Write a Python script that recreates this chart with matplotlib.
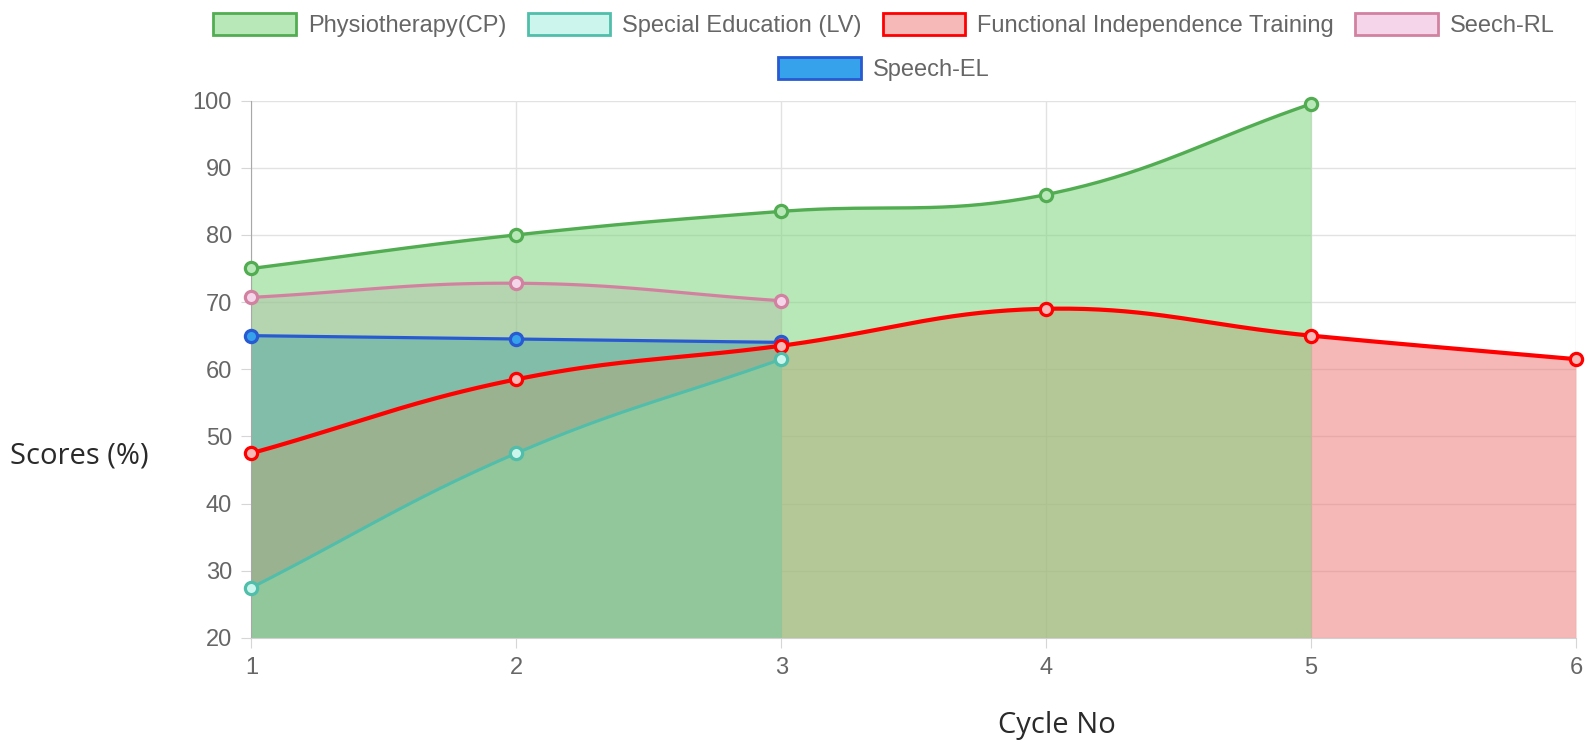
import numpy as np
import matplotlib
matplotlib.use("Agg")
import matplotlib.pyplot as plt
from matplotlib.patches import Patch

# Data
cycles = [1, 2, 3, 4, 5, 6]
physio = [75, 80, 83.5, 86, 99.5]
special_ed = [27.5, 47.5, 61.5]
fit = [47.5, 58.5, 63.5, 69, 65, 61.5]
speech_rl = [70.7, 72.8, 70.2]
speech_el = [65, 64.5, 64]

labels = ["Physiotherapy(CP)", "Special Education (LV)",
          "Functional Independence Training", "Seech-RL", "Speech-EL"]


def rgba(r, g, b, a=1.0):
    return (r / 255, g / 255, b / 255, a)


# (line colour, fill colour, marker face, line width)
styles = [
    (rgba(82, 172, 82), rgba(126, 213, 126, 0.55), rgba(184, 232, 184), 2.4),
    (rgba(80, 190, 170), rgba(149, 234, 220, 0.48), rgba(204, 245, 238), 2.2),
    (rgba(255, 0, 0), rgba(239, 113, 113, 0.5), rgba(247, 184, 184), 3.0),
    (rgba(210, 130, 160), rgba(239, 162, 215, 0.45), rgba(245, 213, 234), 2.3),
    (rgba(40, 90, 210), rgba(54, 162, 235, 1.0), rgba(54, 162, 235), 2.3),
]
legend_faces = [rgba(184, 232, 184), rgba(204, 245, 238), rgba(247, 184, 184),
                rgba(245, 213, 234), rgba(54, 162, 235)]


def smooth(xs, ys, tension=0.4, sx=265.0, sy=6.72, n=40):
    # Chart.js style bezier spline, control points computed in pixel space
    px = np.asarray(xs, float) * sx
    py = np.asarray(ys, float) * sy
    m = len(px)
    cprev, cnext = [], []
    for i in range(m):
        a, b = max(i - 1, 0), min(i + 1, m - 1)
        d01 = np.hypot(px[i] - px[a], py[i] - py[a])
        d12 = np.hypot(px[b] - px[i], py[b] - py[i])
        tot = d01 + d12
        s01 = d01 / tot if tot else 0
        s12 = d12 / tot if tot else 0
        dx, dy = px[b] - px[a], py[b] - py[a]
        cprev.append((px[i] - tension * s01 * dx, py[i] - tension * s01 * dy))
        cnext.append((px[i] + tension * s12 * dx, py[i] + tension * s12 * dy))
    t = np.linspace(0, 1, n)[:, None]
    out = []
    for i in range(m - 1):
        p0 = np.array([px[i], py[i]])
        p3 = np.array([px[i + 1], py[i + 1]])
        p1 = np.array(cnext[i])
        p2 = np.array(cprev[i + 1])
        seg = ((1 - t) ** 3) * p0 + 3 * ((1 - t) ** 2) * t * p1 \
            + 3 * (1 - t) * t ** 2 * p2 + t ** 3 * p3
        out.append(seg if i == 0 else seg[1:])
    out = np.vstack(out)
    return out[:, 0] / sx, out[:, 1] / sy


series = [physio, special_ed, fit, speech_rl, speech_el]

fig = plt.figure(figsize=(15.88, 7.47), dpi=100, facecolor="white")
W, H = 1588, 747
ax = fig.add_axes([251.5 / W, 1 - 638 / H, (1576 - 251.5) / W, (638 - 100.5) / H])

# fills first (last dataset at bottom), then lines on top
n = len(series)
for k in range(n - 1, -1, -1):
    vals = series[k]
    xs = cycles[:len(vals)]
    sx_, sy_ = smooth(xs, vals)
    ax.fill_between(sx_, sy_, 20, color=styles[k][1], linewidth=0, zorder=2 + (n - k) * 0.1)

for k in range(n - 1, -1, -1):
    vals = series[k]
    xs = cycles[:len(vals)]
    sx_, sy_ = smooth(xs, vals)
    lc, fc, mf, lw = styles[k]
    z = 5 + (n - k) * 0.1
    ax.plot(sx_, sy_, color=lc, lw=lw, zorder=z, solid_capstyle="round")
    ax.plot(xs, vals, "o", ms=8.8, mfc=mf, mec=lc, mew=2.3, zorder=z + 0.05, clip_on=False)

ax.set_xlim(1, 6)
ax.set_ylim(20, 100)
ax.set_xticks(cycles)
ax.set_yticks(range(20, 101, 10))
ax.grid(True, color="#e2e2e2", lw=1.0, zorder=0)
ax.set_axisbelow(True)
for s in ["top", "right"]:
    ax.spines[s].set_visible(False)
ax.spines["left"].set_color("#a8a8a8")
ax.spines["bottom"].set_color("#d0d0d0")
ax.tick_params(length=7, color="#d6d6d6", labelcolor="#666666", labelsize=17, pad=7)
for lab in ax.get_xticklabels() + ax.get_yticklabels():
    lab.set_family(["Liberation Sans", "DejaVu Sans"])

fig.text(10 / W, 1 - 456 / H, "Scores (%)", fontsize=21, family="Open Sans",
         color="#2a2a2a", ha="left", va="center")
fig.text(1057 / W, 1 - 725 / H, "Cycle No", fontsize=21, family="Open Sans",
         color="#2a2a2a", ha="center", va="center")

handles = [Patch(facecolor=legend_faces[k], edgecolor=styles[k][0], lw=2.0, label=labels[k])
           for k in range(n)]
leg_kw = dict(frameon=False, handlelength=3.5, handleheight=1.1, handletextpad=0.5,
              columnspacing=0.9, prop={"family": "Liberation Sans", "size": 17},
              labelcolor="#666666", loc="center", borderpad=0)
leg1 = fig.legend(handles=handles[:4], ncol=4, bbox_to_anchor=(884 / W, 1 - 25 / H), **leg_kw)
leg2 = fig.legend(handles=handles[4:], ncol=1, bbox_to_anchor=(884 / W, 1 - 69 / H), **leg_kw)

fig.savefig("out.png", dpi=100, facecolor="white")
